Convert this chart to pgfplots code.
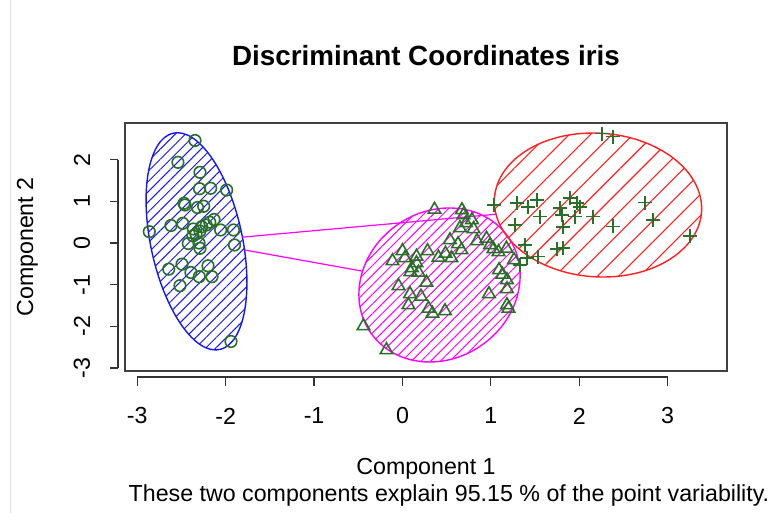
\documentclass[border=0pt]{standalone}
\usepackage{pgfplots}
\pgfplotsset{compat=1.18}
\usepackage{fontspec}
\setmainfont{Liberation Sans}
\usetikzlibrary{patterns.meta,backgrounds,calc}
\definecolor{ptgreen}{RGB}{40,112,40}
\definecolor{rblue}{RGB}{20,20,255}
\definecolor{rmag}{RGB}{255,0,255}
\definecolor{rred}{RGB}{255,30,30}
\newcommand{\rfont}{\fontsize{11.6}{13.5}\selectfont}
\begin{document}
\begin{tikzpicture}
\useasboundingbox (-62.5pt,-71pt) rectangle (323.5pt,185.5pt);
\draw[black!12, line width=0.5pt] (-57pt,-71pt) -- (-57pt,185.5pt);
\begin{axis}[
  scale only axis, width=301pt, height=124pt,
  xmin=-3.139, xmax=3.671, ymin=-3.070, ymax=2.878,
  axis line style={black!75, line width=0.7pt},
  xtick={-3,-2,-1,0,1,2,3}, xticklabels={-3,-2,-1,0,1,2,3},
  ytick={-3,-2,-1,0,1,2}, yticklabels={-3,-2,-1,0,1,2},
  major tick length=0pt, tick style={draw=none},
  xticklabel style={anchor=center, inner sep=0pt, yshift=-22.5pt, font=\rfont},
  yticklabel style={anchor=center, inner sep=0pt, xshift=-21.5pt, rotate=90, font=\rfont},
  clip=false,
  title={Discriminant Coordinates iris},
  title style={at={(0.5,1.2218)}, anchor=center, inner sep=0pt, font=\bfseries\fontsize{13.9}{16}\selectfont},
  xlabel={Component 1},
  xlabel style={at={(0.5,-0.3952)}, anchor=center, inner sep=0pt, font=\rfont},
  ylabel={Component 2},
  ylabel style={at={(-0.162,0.5)}, anchor=center, inner sep=0pt, font=\rfont},
]
% ellipse anchor coordinates (centre, conjugate semi-axis ends)
\coordinate (c1) at (axis cs:-2.33,0.04);
\coordinate (c1u) at (axis cs:-2.546,2.645);
\coordinate (c1v) at (axis cs:-1.802,0.04);
\coordinate (c2) at (axis cs:0.419,-1.007);
\coordinate (c2u) at (axis cs:0.530,0.840);
\coordinate (c2v) at (axis cs:1.324,-1.007);
\coordinate (c3) at (axis cs:2.212,0.911);
\coordinate (c3u) at (axis cs:2.155,2.638);
\coordinate (c3v) at (axis cs:3.383,0.911);
% R style detached axes
\draw[black!80, line width=0.6pt] ([yshift=-3pt]axis cs:-3,-3.070) -- ([yshift=-3pt]axis cs:3,-3.070);
\pgfplotsinvokeforeach{-3,-2,-1,0,1,2,3}{
  \draw[black!80, line width=0.6pt] ([yshift=-3pt]axis cs:#1,-3.070) -- ([yshift=-7.5pt]axis cs:#1,-3.070);
}
\draw[black!80, line width=0.6pt] ([xshift=-3.5pt]axis cs:-3.139,-3) -- ([xshift=-3.5pt]axis cs:-3.139,2);
\pgfplotsinvokeforeach{-3,-2,-1,0,1,2}{
  \draw[black!80, line width=0.6pt] ([xshift=-3.5pt]axis cs:-3.139,#1) -- ([xshift=-7.5pt]axis cs:-3.139,#1);
}
% connecting lines between ellipses
\addplot[rmag, line width=0.6pt] coordinates {(-1.811,0.140) (1.058,0.690)};
\addplot[rmag, line width=0.6pt] coordinates {(-1.787,-0.167) (-0.450,-0.676)};
% setosa
\addplot[only marks, mark=o, mark size=2.9pt, ptgreen, mark options={line width=0.8pt}] coordinates {
(-2.347,2.458) (-2.540,1.935) (-2.291,1.695) (-2.296,1.302) (-2.170,1.312) (-1.989,1.271)
(-2.472,0.952) (-2.460,0.911) (-2.319,0.851) (-2.249,0.882) (-2.864,0.271) (-2.619,0.420)
(-2.486,0.472) (-2.366,0.336) (-2.271,0.391) (-2.132,0.564) (-2.057,0.312) (-1.912,0.312)
(-2.336,0.216) (-2.291,0.288) (-2.423,-0.012) (-2.302,0.000) (-2.291,-0.127) (-1.900,-0.048)
(-2.644,-0.628) (-2.494,-0.508) (-2.393,-0.707) (-2.299,-0.808) (-2.200,-0.547) (-2.155,-0.808)
(-2.517,-1.024) (-1.940,-2.362) (-2.37,0.17) (-2.22,0.43) (-2.18,0.50)
};
% versicolor
\addplot[only marks, mark=triangle, mark size=3.6pt, ptgreen, mark options={line width=0.8pt}] coordinates {
(0.362,0.803) (0.673,0.791) (0.690,0.671) (0.786,0.552) (0.718,0.480) (0.650,0.360)
(0.803,0.336) (0.537,0.072) (0.628,-0.024) (0.843,0.048) (0.950,0.108) (0.990,-0.048)
(1.029,-0.144) (1.086,-0.216) (1.176,-0.132) (1.261,-0.408) (0.667,-0.168) (0.000,-0.192)
(-0.113,-0.432) (0.158,-0.324) (0.158,-0.480) (0.283,-0.192) (0.407,-0.348) (0.554,-0.360)
(0.090,-0.695) (0.181,-0.707) (0.271,-0.947) (-0.045,-1.031) (0.085,-1.223) (0.209,-1.283)
(0.068,-1.487) (0.294,-1.571) (0.339,-1.691) (0.481,-1.631) (1.092,-0.647) (1.131,-0.755)
(1.182,-0.887) (1.182,-1.103) (0.978,-1.223) (1.182,-1.487) (1.199,-1.571) (-0.441,-1.990)
(-0.181,-2.566) (0.486,-0.252) (0.028,-0.360) (0.107,-0.600)
};
% virginica
\addplot[only marks, mark=+, mark size=3.5pt, ptgreen, mark options={line width=0.8pt}] coordinates {
(2.257,2.626) (2.381,2.554) (1.035,0.911) (1.295,0.959) (1.420,0.863) (1.522,1.031)
(1.555,0.635) (1.273,0.432) (1.782,0.839) (1.804,0.671) (1.816,0.384) (1.895,1.079)
(1.974,0.959) (2.008,0.863) (1.951,0.635) (2.155,0.635) (2.381,0.396) (2.743,0.971)
(2.834,0.552) (3.252,0.168) (1.386,-0.048) (1.748,-0.144) (1.816,-0.120) (1.533,-0.324)
(1.408,-0.360) (1.329,-0.528)
};
\node[anchor=center, inner sep=0pt, font=\rfont] at (axis description cs:0.5382,-0.504)
  {These two components explain 95.15 \% of the point variability.};
\end{axis}
\begin{scope}[on background layer]
  \begin{scope}[x={($(c1v)-(c1)$)}, y={($(c1u)-(c1)$)}, shift={(c1)}]
    \draw[rblue, line width=0.7pt, pattern={Lines[angle=45,distance=3.6pt,line width=0.5pt]}, pattern color=rblue] (0,0) circle[radius=1];
  \end{scope}
  \begin{scope}[x={($(c2v)-(c2)$)}, y={($(c2u)-(c2)$)}, shift={(c2)}]
    \draw[rmag, line width=0.7pt, pattern={Lines[angle=45,distance=3.4pt,line width=0.5pt]}, pattern color=rmag] (0,0) circle[radius=1];
  \end{scope}
  \begin{scope}[x={($(c3v)-(c3)$)}, y={($(c3u)-(c3)$)}, shift={(c3)}]
    \draw[rred, line width=0.7pt, pattern={Lines[angle=45,distance=7.5pt,line width=0.55pt]}, pattern color=rred] (0,0) circle[radius=1];
  \end{scope}
\end{scope}
\end{tikzpicture}
\end{document}
